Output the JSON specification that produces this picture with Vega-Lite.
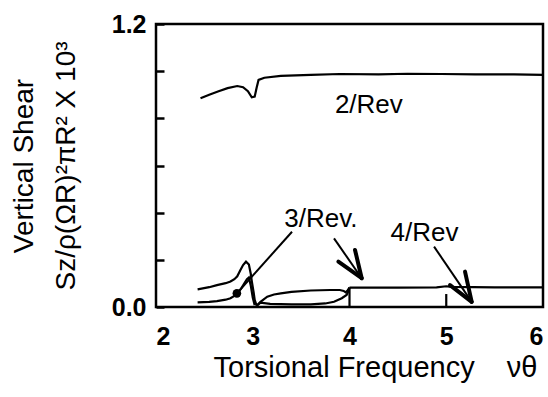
{
  "$schema": "https://vega.github.io/schema/vega-lite/v6.json",
  "width": 387,
  "height": 283,
  "autosize": {"type": "none"},
  "padding": {"left": 156, "top": 24, "right": 5, "bottom": 90},
  "background": "white",
  "config": {
    "view": {"stroke": "black", "strokeWidth": 2.5},
    "font": "Liberation Sans"
  },
  "datasets": {
    "curves": [
      {"s": "r2", "i": 1, "x": 2.46, "y": 0.885},
      {"s": "r2", "i": 2, "x": 2.55, "y": 0.9},
      {"s": "r2", "i": 3, "x": 2.64, "y": 0.914},
      {"s": "r2", "i": 4, "x": 2.74, "y": 0.928},
      {"s": "r2", "i": 5, "x": 2.84, "y": 0.937},
      {"s": "r2", "i": 6, "x": 2.9, "y": 0.932},
      {"s": "r2", "i": 7, "x": 2.95, "y": 0.915},
      {"s": "r2", "i": 8, "x": 2.99, "y": 0.889},
      {"s": "r2", "i": 9, "x": 3.02, "y": 0.892},
      {"s": "r2", "i": 10, "x": 3.04, "y": 0.93},
      {"s": "r2", "i": 11, "x": 3.06, "y": 0.963},
      {"s": "r2", "i": 12, "x": 3.12, "y": 0.972},
      {"s": "r2", "i": 13, "x": 3.29, "y": 0.98},
      {"s": "r2", "i": 14, "x": 3.6, "y": 0.984},
      {"s": "r2", "i": 15, "x": 3.9, "y": 0.988},
      {"s": "r2", "i": 16, "x": 4.3, "y": 0.986},
      {"s": "r2", "i": 17, "x": 4.6, "y": 0.989},
      {"s": "r2", "i": 18, "x": 4.95, "y": 0.988},
      {"s": "r2", "i": 19, "x": 5.3, "y": 0.986},
      {"s": "r2", "i": 20, "x": 5.7, "y": 0.986},
      {"s": "r2", "i": 21, "x": 6.0, "y": 0.984},

      {"s": "r3a", "i": 1, "x": 2.43, "y": 0.075},
      {"s": "r3a", "i": 2, "x": 2.55, "y": 0.084},
      {"s": "r3a", "i": 3, "x": 2.63, "y": 0.093},
      {"s": "r3a", "i": 4, "x": 2.72, "y": 0.101},
      {"s": "r3a", "i": 5, "x": 2.77, "y": 0.108},
      {"s": "r3a", "i": 6, "x": 2.81, "y": 0.118},
      {"s": "r3a", "i": 7, "x": 2.84, "y": 0.13},
      {"s": "r3a", "i": 8, "x": 2.87, "y": 0.155},
      {"s": "r3a", "i": 9, "x": 2.9, "y": 0.178},
      {"s": "r3a", "i": 10, "x": 2.93, "y": 0.192},
      {"s": "r3a", "i": 11, "x": 2.96, "y": 0.18},
      {"s": "r3a", "i": 12, "x": 2.98, "y": 0.14},
      {"s": "r3a", "i": 13, "x": 2.99, "y": 0.11},
      {"s": "r3a", "i": 14, "x": 3.01, "y": 0.06},
      {"s": "r3a", "i": 15, "x": 3.02, "y": 0.03},
      {"s": "r3a", "i": 16, "x": 3.04, "y": 0.006},

      {"s": "r3b", "i": 1, "x": 2.43, "y": 0.02},
      {"s": "r3b", "i": 2, "x": 2.55, "y": 0.022},
      {"s": "r3b", "i": 3, "x": 2.63, "y": 0.025},
      {"s": "r3b", "i": 4, "x": 2.72, "y": 0.031},
      {"s": "r3b", "i": 5, "x": 2.77, "y": 0.037},
      {"s": "r3b", "i": 6, "x": 2.81, "y": 0.047},
      {"s": "r3b", "i": 7, "x": 2.84, "y": 0.058},
      {"s": "r3b", "i": 8, "x": 2.88, "y": 0.078},
      {"s": "r3b", "i": 9, "x": 2.91, "y": 0.098},
      {"s": "r3b", "i": 10, "x": 2.94, "y": 0.118},
      {"s": "r3b", "i": 11, "x": 2.96, "y": 0.125},
      {"s": "r3b", "i": 12, "x": 2.98, "y": 0.09},
      {"s": "r3b", "i": 13, "x": 3.0, "y": 0.04},
      {"s": "r3b", "i": 14, "x": 3.02, "y": 0.008},

      {"s": "l1", "i": 1, "x": 3.04, "y": 0.005},
      {"s": "l1", "i": 2, "x": 3.08, "y": 0.022},
      {"s": "l1", "i": 3, "x": 3.15, "y": 0.044},
      {"s": "l1", "i": 4, "x": 3.22, "y": 0.053},
      {"s": "l1", "i": 5, "x": 3.29, "y": 0.058},
      {"s": "l1", "i": 6, "x": 3.4, "y": 0.064},
      {"s": "l1", "i": 7, "x": 3.6, "y": 0.07},
      {"s": "l1", "i": 8, "x": 3.8, "y": 0.072},
      {"s": "l1", "i": 9, "x": 3.9, "y": 0.072},
      {"s": "l1", "i": 10, "x": 3.94, "y": 0.068},
      {"s": "l1", "i": 11, "x": 3.96, "y": 0.062},
      {"s": "l1", "i": 12, "x": 3.98, "y": 0.07},
      {"s": "l1", "i": 13, "x": 4.0, "y": 0.082},

      {"s": "l2", "i": 1, "x": 3.04, "y": 0.005},
      {"s": "l2", "i": 2, "x": 3.08, "y": 0.018},
      {"s": "l2", "i": 3, "x": 3.18, "y": 0.013},
      {"s": "l2", "i": 4, "x": 3.4, "y": 0.011},
      {"s": "l2", "i": 5, "x": 3.6, "y": 0.011},
      {"s": "l2", "i": 6, "x": 3.75, "y": 0.015},
      {"s": "l2", "i": 7, "x": 3.84, "y": 0.022},
      {"s": "l2", "i": 8, "x": 3.92, "y": 0.037},
      {"s": "l2", "i": 9, "x": 3.97, "y": 0.051},
      {"s": "l2", "i": 10, "x": 3.99, "y": 0.068},
      {"s": "l2", "i": 11, "x": 4.0, "y": 0.082},

      {"s": "v4", "i": 1, "x": 4.0, "y": 0.0},
      {"s": "v4", "i": 2, "x": 4.0, "y": 0.082},

      {"s": "r4", "i": 1, "x": 4.0, "y": 0.082},
      {"s": "r4", "i": 2, "x": 4.5, "y": 0.082},
      {"s": "r4", "i": 3, "x": 4.9, "y": 0.083},
      {"s": "r4", "i": 4, "x": 5.0, "y": 0.088},
      {"s": "r4", "i": 5, "x": 5.05, "y": 0.085},
      {"s": "r4", "i": 6, "x": 5.5, "y": 0.083},
      {"s": "r4", "i": 7, "x": 6.0, "y": 0.083},

      {"s": "v5", "i": 1, "x": 5.0, "y": 0.0},
      {"s": "v5", "i": 2, "x": 5.0, "y": 0.055}
    ],
    "shafts": [
      {"x": 3.406, "y": 0.319, "x2": 2.836, "y2": 0.058},
      {"x": 3.84, "y": 0.291, "x2": 4.126, "y2": 0.122},
      {"x": 4.874, "y": 0.256, "x2": 5.263, "y2": 0.022}
    ],
    "heads": [
      {"x": 4.126, "y": 0.122, "x2": 4.057, "y2": 0.242},
      {"x": 4.126, "y": 0.122, "x2": 3.885, "y2": 0.192},
      {"x": 5.263, "y": 0.022, "x2": 5.194, "y2": 0.15},
      {"x": 5.263, "y": 0.022, "x2": 5.039, "y2": 0.093}
    ],
    "dots": [
      {"x": 2.836, "y": 0.058}
    ],
    "labels": [
      {"x": 4.2, "y": 0.857, "t": "2/Rev"},
      {"x": 3.705, "y": 0.373, "t": "3/Rev."},
      {"x": 4.775, "y": 0.314, "t": "4/Rev"}
    ]
  },
  "layer": [
    {
      "data": {"name": "curves"},
      "mark": {"type": "line", "color": "black", "strokeWidth": 2.2},
      "encoding": {
        "x": {
          "field": "x",
          "type": "quantitative",
          "scale": {"domain": [2, 6], "nice": false, "zero": false},
          "axis": {
            "values": [2, 3, 4, 5, 6],
            "format": "d",
            "grid": false,
            "domain": false,
            "ticks": false,
            "labelFontSize": 25,
            "labelFontWeight": "bold",
            "labelColor": "black",
            "labelPadding": 17,
            "title": "Torsional Frequency\u00a0\u00a0\u00a0\u00a0νθ",
            "titleFontSize": 29,
            "titleFontWeight": "normal",
            "titleColor": "black",
            "titlePadding": 4,
            "titleX": 219,
            "titleAlign": "center"
          }
        },
        "y": {
          "field": "y",
          "type": "quantitative",
          "scale": {"domain": [0, 1.2], "nice": false},
          "axis": {
            "values": [0, 0.2, 0.4, 0.6, 0.8, 1.0, 1.2],
            "labelExpr": "datum.value == 0 || datum.value == 1.2 ? format(datum.value, '.1f') : ''",
            "grid": false,
            "domain": false,
            "zindex": 1,
            "offset": -8,
            "tickSize": 8,
            "tickWidth": 2.5,
            "tickColor": "black",
            "labelFontSize": 25,
            "labelFontWeight": "bold",
            "labelColor": "black",
            "labelPadding": 10,
            "title": ["Vertical Shear", "Sz/ρ(ΩR)²πR² X 10³"],
            "titleFontSize": 28,
            "titleFontWeight": "normal",
            "titleColor": "black",
            "titleLineHeight": 42,
            "titlePadding": 31
          }
        },
        "detail": {"field": "s"},
        "order": {"field": "i", "type": "quantitative"}
      }
    },
    {
      "data": {"name": "shafts"},
      "mark": {"type": "rule", "color": "black", "strokeWidth": 2},
      "encoding": {
        "x": {"field": "x", "type": "quantitative"},
        "y": {"field": "y", "type": "quantitative"},
        "x2": {"field": "x2"},
        "y2": {"field": "y2"}
      }
    },
    {
      "data": {"name": "heads"},
      "mark": {"type": "rule", "color": "black", "strokeWidth": 4, "strokeCap": "round"},
      "encoding": {
        "x": {"field": "x", "type": "quantitative"},
        "y": {"field": "y", "type": "quantitative"},
        "x2": {"field": "x2"},
        "y2": {"field": "y2"}
      }
    },
    {
      "data": {"name": "dots"},
      "mark": {"type": "point", "filled": true, "color": "black", "size": 75, "opacity": 1},
      "encoding": {
        "x": {"field": "x", "type": "quantitative"},
        "y": {"field": "y", "type": "quantitative"}
      }
    },
    {
      "data": {"name": "labels"},
      "mark": {"type": "text", "fontSize": 26, "color": "black", "align": "center", "baseline": "middle"},
      "encoding": {
        "x": {"field": "x", "type": "quantitative"},
        "y": {"field": "y", "type": "quantitative"},
        "text": {"field": "t"}
      }
    }
  ]
}
